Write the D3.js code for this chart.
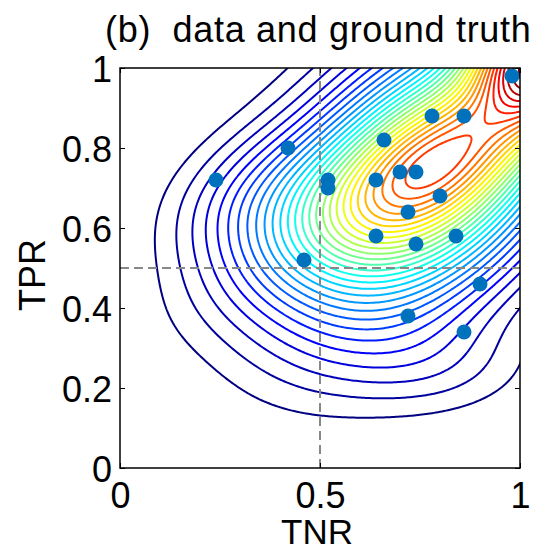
<!DOCTYPE html>
<html>
<head>
<meta charset="utf-8">
<script src="https://cdn.jsdelivr.net/npm/d3@7"></script>
<style>
  body { margin: 0; background: #fff; }
  text { font-family: Arial, "Liberation Sans", sans-serif; fill: #000; }
</style>
</head>
<body>
<div id="chart"></div>
<script>
// observed data (TNR, TPR)
const tnr = [0.24, 0.42, 0.46, 0.52, 0.52, 0.64, 0.64, 0.66, 0.70, 0.74, 0.72, 0.78, 0.86, 0.80, 0.74, 0.84, 0.72, 0.90, 0.86, 0.98];
const tpr = [0.72, 0.80, 0.52, 0.72, 0.70, 0.72, 0.58, 0.82, 0.74, 0.74, 0.64, 0.88, 0.88, 0.68, 0.56, 0.58, 0.38, 0.46, 0.34, 0.98];

// ground truth density, as a mixture of gaussian bumps
// (main body, diagonal ridge, corner peak, lower lobe, left lobe)
const gtCx  = [0.77, 0.88, 1.04, 0.80, 0.35];
const gtCy  = [0.73, 0.82, 1.04, 0.25, 0.68];
const gtSx  = [0.25, 0.333, 0.11, 0.17, 0.16];
const gtSy  = [0.25, 0.209, 0.11, 0.09, 0.12];
const gtRho = [0.45, 0.836, 0.00, 0.00, 0.30];
const gtW   = [0.75, 0.26, 0.75, 0.06, 0.12];

const xTicks = [0, 0.5, 1];
const yTicks = [0, 0.2, 0.4, 0.6, 0.8, 1];
const nLevels = 40;
const levelStep = 0.034;
const levelBase = 0.014;

const W = 535, H = 552;
const mLeft = 120, mRight = 520, mTop = 68, mBottom = 468;

const svg = d3.select("#chart").append("svg")
    .attr("width", W)
    .attr("height", H);

const x = d3.scaleLinear().domain([0, 1]).range([mLeft, mRight]);
const y = d3.scaleLinear().domain([0, 1]).range([mBottom, mTop]);

function density(px, py) {
    let s = 0;
    for (let k = 0; k < gtW.length; k++) {
        const u = (px - gtCx[k]) / gtSx[k];
        const v = (py - gtCy[k]) / gtSy[k];
        const r = gtRho[k];
        const q = (u * u + v * v - 2 * r * u * v) / (1 - r * r);
        s += gtW[k] * Math.exp(-0.5 * q);
    }
    return s;
}

// grid a bit larger than the axes so the closing edges get clipped away
const n = 241, g0 = -0.1, gStep = 1.2 / (n - 1);
const values = new Array(n * n);
for (let j = 0; j < n; j++) {
    for (let i = 0; i < n; i++) {
        values[j * n + i] = density(g0 + i * gStep, g0 + j * gStep);
    }
}

// only keep levels that show up inside the axes
let inMax = 0;
for (let j = 0; j < n; j++) {
    for (let i = 0; i < n; i++) {
        const gx = g0 + i * gStep, gy = g0 + j * gStep;
        if (gx >= 0 && gx <= 1 && gy >= 0 && gy <= 1) inMax = Math.max(inMax, values[j * n + i]);
    }
}
const levels = d3.range(1, nLevels + 1).map(k => levelBase + k * levelStep).filter(l => l < inMax);
const contours = d3.contours().size([n, n]).thresholds(levels)(values)
    .filter(c => c.coordinates.length > 0);

function jet(t) {
    const c = v => Math.max(0, Math.min(1, v));
    const r = c(1.5 - Math.abs(4 * t - 3));
    const g = c(1.5 - Math.abs(4 * t - 2));
    const b = c(1.5 - Math.abs(4 * t - 1));
    return d3.rgb(r * 255, g * 255, b * 255).toString();
}
const lmin = d3.min(levels);
const lmax = d3.max(levels);

const proj = d3.geoTransform({
    point: function(gx, gy) {
        this.stream.point(x(g0 + (gx - 0.5) * gStep), y(g0 + (gy - 0.5) * gStep));
    }
});
const path = d3.geoPath(proj);

svg.append("clipPath").attr("id", "clip")
    .append("rect")
    .attr("x", mLeft).attr("y", mTop)
    .attr("width", mRight - mLeft).attr("height", mBottom - mTop);

const plot = svg.append("g").attr("clip-path", "url(#clip)");

plot.selectAll(".contour")
    .data(contours)
    .enter().append("path")
    .attr("class", "contour")
    .attr("d", path)
    .attr("fill", "none")
    .attr("stroke", d => jet((d.value - lmin) / (lmax - lmin)))
    .attr("stroke-width", 2);

// dashed guide lines at 0.5
plot.append("line")
    .attr("x1", x(0.5)).attr("x2", x(0.5))
    .attr("y1", y(0)).attr("y2", y(1))
    .attr("stroke", "#888").attr("stroke-width", 2)
    .attr("stroke-dasharray", "9,5");
plot.append("line")
    .attr("x1", x(0)).attr("x2", x(1))
    .attr("y1", y(0.5)).attr("y2", y(0.5))
    .attr("stroke", "#888").attr("stroke-width", 2)
    .attr("stroke-dasharray", "9,5");

svg.selectAll(".dot")
    .data(tnr)
    .enter().append("circle")
    .attr("class", "dot")
    .attr("cx", d => x(d))
    .attr("cy", (d, i) => y(tpr[i]))
    .attr("r", 7.5)
    .attr("fill", "#0072BD");

// axes box with inward ticks
svg.append("rect")
    .attr("x", mLeft).attr("y", mTop)
    .attr("width", mRight - mLeft).attr("height", mBottom - mTop)
    .attr("fill", "none").attr("stroke", "#000").attr("stroke-width", 1.5);

const axB = svg.append("g").attr("transform", `translate(0,${mBottom})`)
    .call(d3.axisBottom(x).tickValues(xTicks).tickSizeInner(-5).tickSizeOuter(0).tickPadding(14)
        .tickFormat(d3.format("")));
const axT = svg.append("g").attr("transform", `translate(0,${mTop})`)
    .call(d3.axisTop(x).tickValues(xTicks).tickSizeInner(-5).tickSizeOuter(0).tickFormat(""));
const axL = svg.append("g").attr("transform", `translate(${mLeft},0)`)
    .call(d3.axisLeft(y).tickValues(yTicks).tickSizeInner(-5).tickSizeOuter(0).tickPadding(8)
        .tickFormat(d3.format("")));
const axR = svg.append("g").attr("transform", `translate(${mRight},0)`)
    .call(d3.axisRight(y).tickValues(yTicks).tickSizeInner(-5).tickSizeOuter(0).tickFormat(""));

[axB, axT, axL, axR].forEach(a => {
    a.select(".domain").remove();
    a.selectAll(".tick line").attr("stroke", "#000").attr("stroke-width", 1);
});
axB.selectAll(".tick text")
    .attr("font-size", "36px")
    .attr("font-family", "Arial, 'Liberation Sans', sans-serif")
    .attr("dy", null)
    .attr("y", 40);
axL.selectAll(".tick text")
    .attr("font-size", "36px")
    .attr("font-family", "Arial, 'Liberation Sans', sans-serif")
    .attr("dy", null)
    .attr("y", 13);

svg.append("text")
    .attr("x", 317).attr("y", 544)
    .attr("text-anchor", "middle")
    .style("font-size", "35px")
    .text("TNR");

svg.append("text")
    .attr("transform", "translate(45,275) rotate(-90)")
    .attr("text-anchor", "middle")
    .style("font-size", "36px")
    .text("TPR");

svg.append("text")
    .attr("x", 105).attr("y", 42)
    .style("font-size", "36px")
    .style("letter-spacing", "0.7px")
    .text("(b)\u00a0\u00a0data and ground truth");
</script>
</body>
</html>
